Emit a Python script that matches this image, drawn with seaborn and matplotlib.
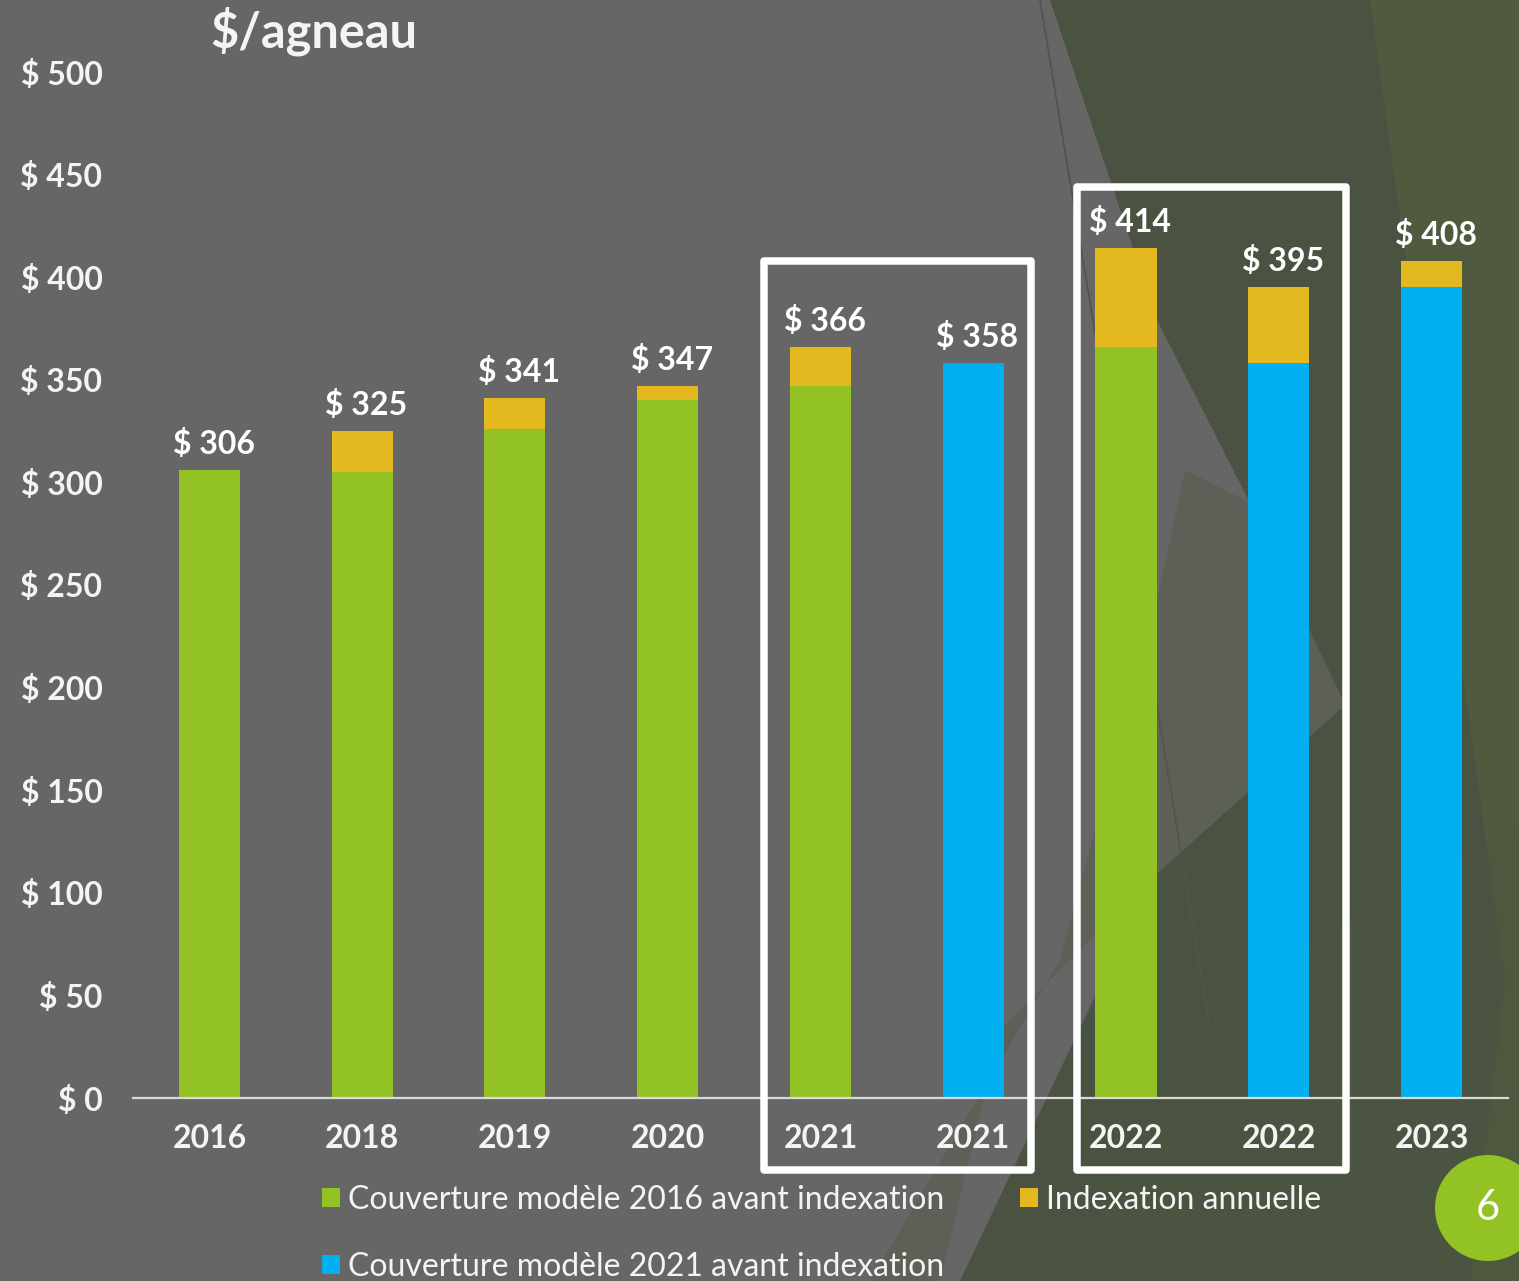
import numpy as np
import pandas as pd
import matplotlib
matplotlib.use("Agg")
import matplotlib.pyplot as plt
import seaborn as sns
from matplotlib.patches import Polygon, Rectangle, Ellipse, Patch
from matplotlib.lines import Line2D

# ---------------------------------------------------------------
# data
# ---------------------------------------------------------------
bar_keys = ["2016", "2018", "2019", "2020", "2021a", "2021b", "2022a", "2022b", "2023"]
bar_labels = ["2016", "2018", "2019", "2020", "2021", "2021", "2022", "2022", "2023"]
couverture = [306, 305, 326, 340, 347, 358, 366, 358, 395]
indexation = [0, 20, 15, 7, 19, 0, 48, 37, 13]
modele = ["2016", "2016", "2016", "2016", "2016", "2021", "2016", "2021", "2021"]
y_ticks = [0, 50, 100, 150, 200, 250, 300, 350, 400, 450, 500]

legend_labels = {
    "2016": "Couverture modèle 2016 avant indexation",
    "2021": "Couverture modèle 2021 avant indexation",
    "index": "Indexation annuelle",
}

# colours
BG = "#666666"
GREEN = "#92C224"
BLUE = "#00B0F0"
YELLOW = "#E4B81F"
TXT = "#F4F4F4"

df = pd.DataFrame({"key": bar_keys, "label": bar_labels,
                   "base": couverture, "index": indexation, "modele": modele})
df["total"] = df["base"] + df["index"]

# ---------------------------------------------------------------
# figure
# ---------------------------------------------------------------
sns.set_theme(style="white")
plt.rcParams["font.family"] = ["Lato", "DejaVu Sans"]

W, H = 1519, 1281
fig = plt.figure(figsize=(W / 100, H / 100), dpi=100, facecolor=BG)


def px(x, y):
    return (x / W, 1 - y / H)


# background facets of the slide template
def facet(pts, color, z=-5, alpha=1.0):
    fig.patches.append(Polygon([px(*p) for p in pts], closed=True, transform=fig.transFigure,
                               facecolor=color, edgecolor="none", zorder=z, alpha=alpha))


facet([(1185, 470), (1250, 503), (1345, 705), (1150, 880), (1000, 1030), (940, 1281),
       (870, 1281), (1060, 960), (1157, 600)], "#5D6056", z=-6)
facet([(1050, 0), (1519, 0), (1519, 1281), (960, 1281), (1150, 880), (1345, 705),
       (1250, 503), (1157, 320)], "#4A5242", z=-5)
facet([(1370, 0), (1519, 0), (1519, 1281), (1470, 1281), (1505, 980)], "#4F5A3E", z=-4)
facet([(1060, 1281), (1200, 1030), (1380, 900), (1519, 830), (1519, 1281)], "#4D573F", z=-4, alpha=0.6)
fig.lines.append(Line2D([1040 / W, 1222 / W], [1, 1 - 1100 / H], transform=fig.transFigure,
                        color="#525252", lw=1.2, zorder=-3))

ax = fig.add_axes([133 / W, 1 - 1098 / H, (1508 - 133) / W, (1098 - 72) / H])
ax.patch.set_alpha(0)

# totals in yellow, then the base coverage on top of them
sns.barplot(data=df, x="key", y="total", order=bar_keys, color=YELLOW,
            width=0.4, saturation=1, linewidth=0, edgecolor="none", ax=ax)
sns.barplot(data=df, x="key", y="base", order=bar_keys, hue="modele",
            palette={"2016": GREEN, "2021": BLUE}, dodge=False,
            width=0.4, saturation=1, linewidth=0, edgecolor="none", legend=False, ax=ax)

ax.set_xlim(-0.5, len(bar_keys) - 0.5)
ax.set_ylim(0, 500)
ax.set_yticks(y_ticks)
ax.set_yticklabels([f"$ {v}" for v in y_ticks])
ax.set_xticks(range(len(bar_keys)))
ax.set_xticklabels(bar_labels)
ax.set_xlabel("")
ax.set_ylabel("")
ax.tick_params(axis="both", length=0, colors=TXT, labelsize=23)
ax.tick_params(axis="y", pad=22)
ax.tick_params(axis="x", pad=19)
for t in ax.get_xticklabels() + ax.get_yticklabels():
    t.set_fontweight("bold")
    t.set_color(TXT)

for s in ["top", "right", "left"]:
    ax.spines[s].set_visible(False)
ax.spines["bottom"].set_color("#D9D9D9")
ax.spines["bottom"].set_linewidth(1.6)

# value labels
for i, tot in enumerate(df["total"]):
    ax.annotate(f"$ {tot}", (i, tot), xytext=(3, 8), textcoords="offset points",
                ha="center", va="bottom", fontsize=23, color="white", fontweight="bold")

# white frames around the model comparisons
for i0, left, right, ytop in [(4, 0.367, 0.38, 408), (6, 0.32, 0.44, 444)]:
    ax.add_patch(Rectangle((i0 - left, -35), 1 + left + right, ytop + 35, fill=False,
                           edgecolor="white", lw=5.4, joinstyle="round",
                           clip_on=False, zorder=5))

# title
fig.text(210 / W, 1 - 31 / H, "$/agneau", fontsize=35, fontweight="bold",
         color=TXT, ha="left", va="center")

# legend
handles = [Patch(facecolor=GREEN, edgecolor="none", label=legend_labels["2016"]),
           Patch(facecolor=BLUE, edgecolor="none", label=legend_labels["2021"]),
           Patch(facecolor=YELLOW, edgecolor="none", label=legend_labels["index"])]
leg = fig.legend(handles=handles, ncol=2, loc="upper left",
                 bbox_to_anchor=px(322, 1185), frameon=False, fontsize=23,
                 handlelength=0.55, handleheight=0.55, handletextpad=0.25,
                 labelspacing=1.15, columnspacing=2.4, borderpad=0, borderaxespad=0)
for t in leg.get_texts():
    t.set_color(TXT)

# slide number
fig.patches.append(Ellipse(px(1488, 1208), 106 / W, 106 / H, transform=fig.transFigure,
                           facecolor=GREEN, edgecolor="none", zorder=3))
fig.text(1488 / W, 1 - 1208 / H, "6", fontsize=30, color="white",
         ha="center", va="center", zorder=4)

fig.savefig("out.png", dpi=100, facecolor=fig.get_facecolor())
